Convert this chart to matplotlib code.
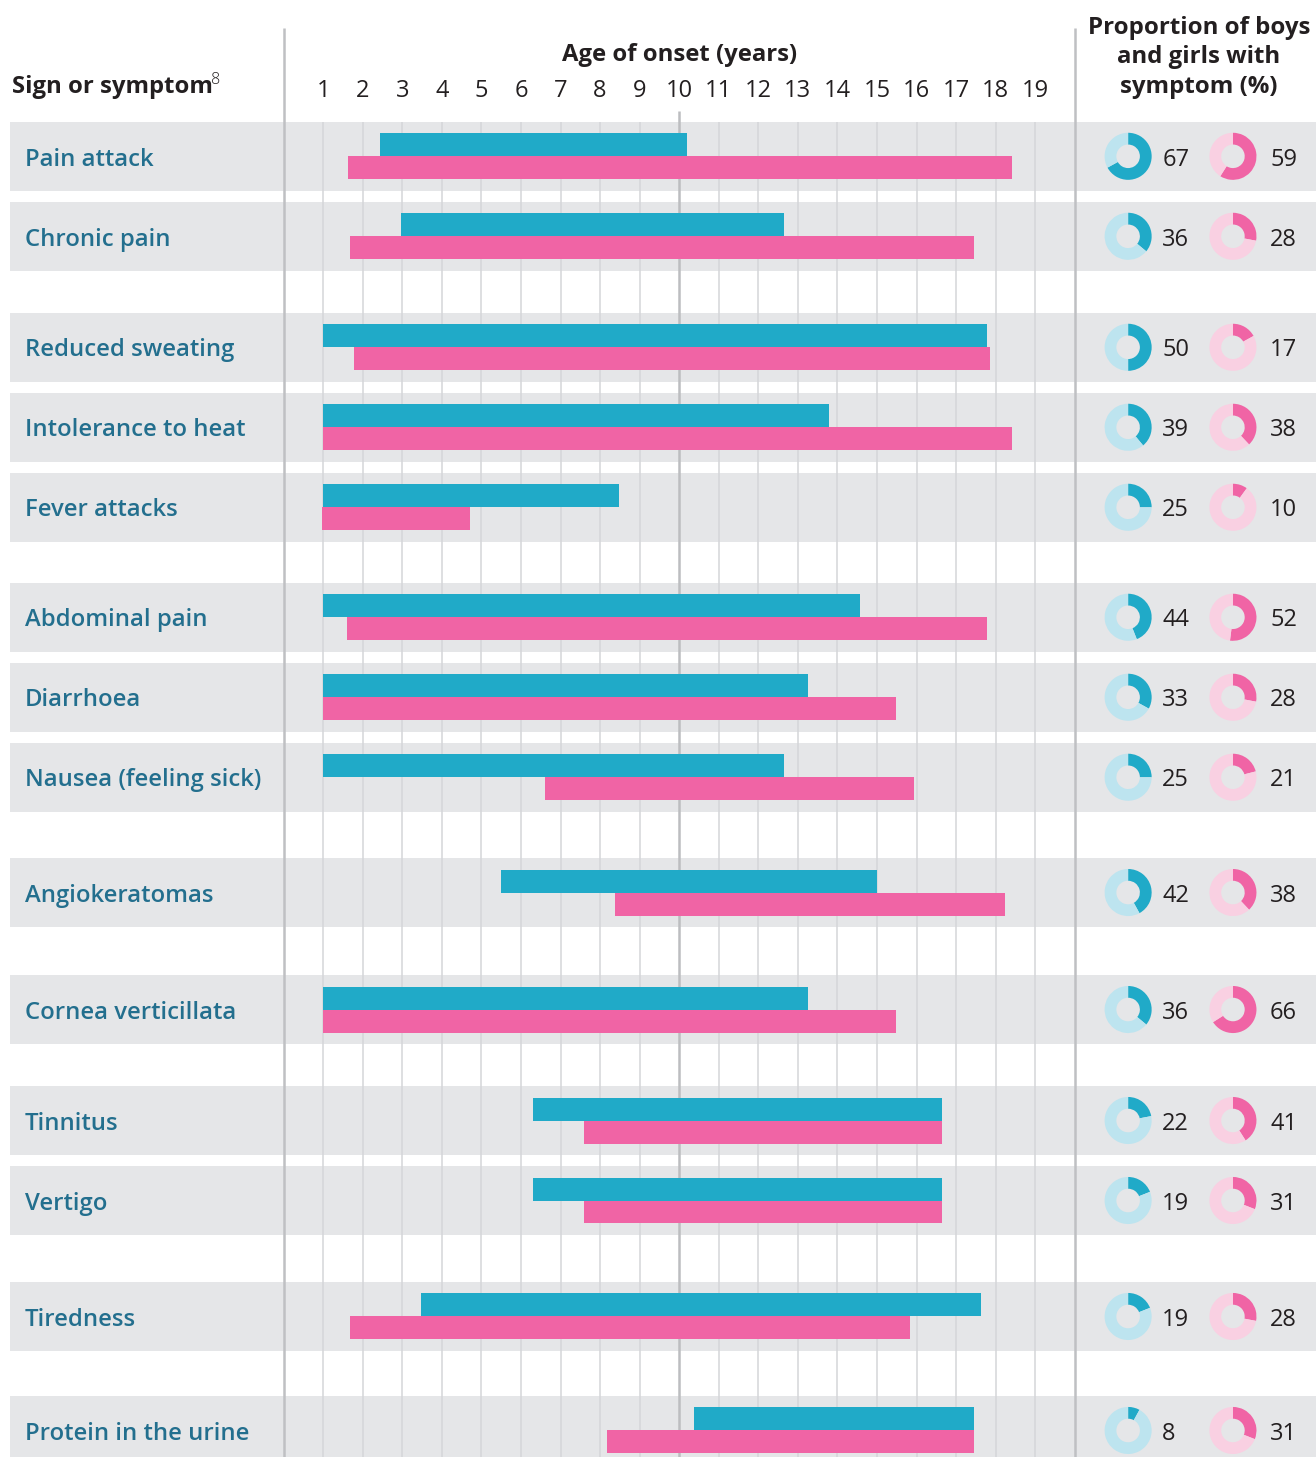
import matplotlib
matplotlib.use("Agg")
import matplotlib.pyplot as plt
import numpy as np

plt.rcParams['font.family'] = ['Open Sans', 'DejaVu Sans']

# Données
symptoms = ["Pain attack", "Chronic pain",
            "Reduced sweating", "Intolerance to heat", "Fever attacks",
            "Abdominal pain", "Diarrhoea", "Nausea (feeling sick)",
            "Angiokeratomas", "Cornea verticillata",
            "Tinnitus", "Vertigo", "Tiredness", "Protein in the urine"]
groups = [0, 0, 1, 1, 1, 2, 2, 2, 3, 4, 5, 5, 6, 7]
boys_start = [2.43, 2.97, 1.0, 1.0, 1.0, 1.0, 1.0, 1.0, 5.5, 1.0, 6.31, 6.31, 3.47, 10.38]
boys_end = [10.2, 12.65, 17.79, 13.79, 8.48, 14.58, 13.26, 12.66, 15.01, 13.26, 16.64, 16.64, 17.63, 17.46]
girls_start = [1.62, 1.67, 1.78, 1.0, 0.98, 1.61, 1.0, 6.61, 8.37, 1.0, 7.6, 7.6, 1.68, 8.18]
girls_end = [18.42, 17.45, 17.86, 18.42, 4.71, 17.79, 15.49, 15.94, 18.24, 15.49, 16.64, 16.64, 15.84, 17.46]
boys_pct = [67, 36, 50, 39, 25, 44, 33, 25, 42, 36, 22, 19, 19, 8]
girls_pct = [59, 28, 17, 38, 10, 52, 28, 21, 38, 66, 41, 31, 28, 31]
ages = list(range(1, 20))

# Mise en page : espace supplémentaire avant chaque groupe (en hauteur de ligne)
group_gaps = [0.0, 0.3875, 0.375, 0.441, 0.4625, 0.3875, 0.45, 0.425]

# Couleurs
BLUE = '#20aac8'
PINK = '#f064a5'
BLUE_LIGHT = '#bde4ef'
PINK_LIGHT = '#f9d0e2'
BAND = '#e5e6e8'
GRID = '#d5d6d9'
DIVIDER = '#bfc0c3'
LABEL = '#236f8e'
DARK = '#231f20'

W, H = 1316, 1457
fig = plt.figure(figsize=(W / 100, H / 100), dpi=100)
ax = fig.add_axes([0, 0, 1, 1])
ax.set_xlim(-7.172, 26.10)
ax.set_ylim(16.26, -1.954)
ax.axis('off')

y = np.arange(len(symptoms)) + np.cumsum(group_gaps)[groups]
bar_h = 0.2875
dy = 0.04  # décalage vertical du texte

# Bandes grises
band_left, band_right = -6.92, 26.10
ax.barh(y, band_right - band_left, left=band_left, height=0.86,
        color=BAND, zorder=0)

# Grille
ax.vlines([a for a in ages if a != 10], -0.43, 16.26, color=GRID, lw=1.1, zorder=1)
ax.vlines(10, -0.566, 16.26, color='#bcbdc0', lw=1.8, zorder=1)
ax.vlines([0, 20], -1.6, 16.26, color=DIVIDER, lw=1.8, zorder=1)

# Barres
ax.barh(y - bar_h / 2, np.array(boys_end) - np.array(boys_start), left=boys_start,
        height=bar_h, color=BLUE, zorder=2)
ax.barh(y + bar_h / 2, np.array(girls_end) - np.array(girls_start), left=girls_start,
        height=bar_h, color=PINK, zorder=2)

# Textes
for yi, name in zip(y, symptoms):
    ax.text(-6.54, yi + dy, name, ha='left', va='center', fontsize=17.2,
            fontweight='semibold', color=LABEL)
for a in ages:
    ax.text(a, -0.854 + dy, str(a), ha='center', va='center', fontsize=17, color=DARK)
ax.text(10, -1.305 + dy, "Age of onset (years)", ha='center', va='center',
        fontsize=17.2, fontweight='bold', color=DARK)
t = ax.text(-6.86, -0.904 + dy, "Sign or symptom", ha='left', va='center',
            fontsize=17.2, fontweight='bold', color=DARK)
ax.annotate("8", xy=(1, 1), xycoords=t, xytext=(-1.5, 2), textcoords='offset points',
            ha='left', va='top', fontsize=11.5, fontweight='light', color=DARK)
ax.text(23.14, -1.279 + dy, "Proportion of boys\nand girls with\nsymptom (%)",
        ha='center', va='center', multialignment='center', linespacing=1.31,
        fontsize=17.3, fontweight='bold', color=DARK)

# Anneaux
to_fig = ax.transData + fig.transFigure.inverted()
rw, rh = 2 * 24 / W, 2 * 24 / H
for yi, pb, pg in zip(y, boys_pct, girls_pct):
    for cx, p, dark, light, tx in [(21.35, pb, BLUE, BLUE_LIGHT, 22.21),
                                   (24.0, pg, PINK, PINK_LIGHT, 24.94)]:
        fx, fy = to_fig.transform((cx, yi))
        pax = fig.add_axes([fx - rw / 2, fy - rh / 2, rw, rh])
        pax.pie([p, 100 - p], colors=[dark, light], startangle=90, counterclock=False,
                radius=1.0, wedgeprops=dict(width=0.5, linewidth=0))
        pax.set_xlim(-1.02, 1.02)
        pax.set_ylim(-1.02, 1.02)
        pax.set_aspect('equal')
        pax.axis('off')
        ax.text(tx, yi + dy, str(p), ha='left', va='center', fontsize=17, color=DARK)

fig.savefig('out.png', dpi=100)
